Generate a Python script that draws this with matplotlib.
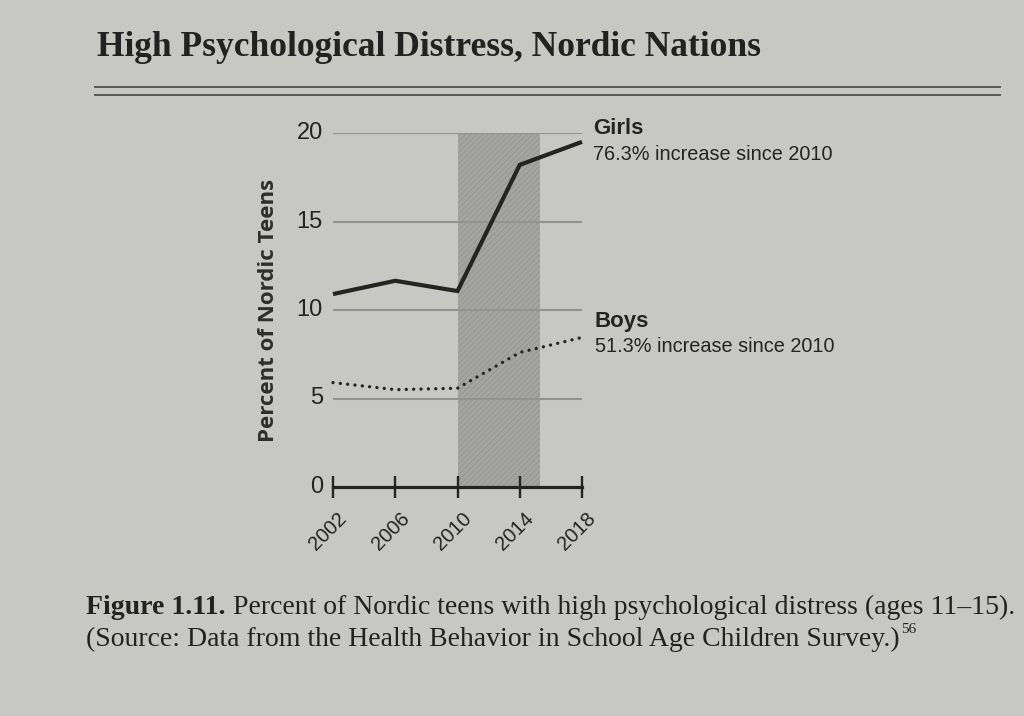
import matplotlib
matplotlib.use("Agg")
import matplotlib.pyplot as plt
import numpy as np

# ---- data ----
years = [2002, 2006, 2010, 2014, 2018]
girls = [10.9, 11.65, 11.07, 18.2, 19.5]
boys = [5.9, 5.5, 5.58, 7.6, 8.45]
yticks = [0, 5, 10, 15, 20]
shade_start, shade_end = 2010, 2015.3
title = "High Psychological Distress, Nordic Nations"
ylabel = "Percent of Nordic Teens"
girls_label, girls_note = "Girls", "76.3% increase since 2010"
boys_label, boys_note = "Boys", "51.3% increase since 2010"
cap_bold = "Figure 1.11."
cap_line1 = " Percent of Nordic teens with high psychological distress (ages 11\u201315)."
cap_line2 = "(Source: Data from the Health Behavior in School Age Children Survey.)"
cap_sup = "56"

W, H = 1024, 716
paper = "#c7c7c3"
ink = "#242424"

plt.rcParams["hatch.linewidth"] = 0.4
fig = plt.figure(figsize=(W / 100, H / 100), dpi=100, facecolor=paper)

def fx(px):
    return px / W

def fy(py):
    return 1 - py / H

# axes: x 2002 at px 333, 2018 at 582; y 0 at 487, 20 at 133
ax = fig.add_axes([fx(333), fy(487), fx(582) - fx(333), fy(133) - fy(487)])
ax.set_facecolor("none")
ax.set_xlim(2002, 2018)
ax.set_ylim(0, 20)
for s in ax.spines.values():
    s.set_visible(False)

# shaded band
ax.axvspan(shade_start, shade_end, ymin=0, ymax=1, facecolor="#a4a4a2",
           edgecolor="#8c8c8a", hatch="//////", linewidth=0, zorder=1)

# gridlines
for yv in yticks[1:]:
    ax.plot([years[0], years[-1]], [yv, yv], color="#929290", lw=1.5,
            zorder=2, solid_capstyle="butt")

# baseline axis with cross ticks
ax.plot([years[0], years[-1]], [0, 0], color=ink, lw=2.3, zorder=4, clip_on=False)
ax.set_xticks(years)
ax.set_xticklabels([])
ax.tick_params(axis="x", direction="inout", length=16, width=1.7, color=ink)
ax.set_yticks([])

# lines
ax.plot(years, girls, color=ink, lw=3.0, solid_joinstyle="miter",
        solid_capstyle="butt", zorder=5, clip_on=False)
ax.plot(years, boys, color=ink, lw=2.4, linestyle=(0, (0.01, 2.2)),
        dash_capstyle="round", zorder=5, clip_on=False)

# y tick labels
for yv in yticks:
    ax.annotate(str(yv), xy=(years[0], yv), xytext=(-10, 0),
                textcoords="offset pixels", ha="right", va="center",
                fontsize=17, family="Liberation Sans", color=ink)

# x tick labels (rotated)
for yr in years:
    ax.annotate(str(yr), xy=(yr, 0), xytext=(11, -29),
                textcoords="offset pixels", ha="right", va="center",
                rotation=45, rotation_mode="anchor",
                fontsize=14.5, family="Liberation Sans", color=ink)

# series annotations
fig.text(fx(593), fy(134), girls_label, fontsize=16, fontweight="bold",
         family="Liberation Sans", color=ink, va="baseline")
fig.text(fx(593), fy(160), girls_note, fontsize=14.3, family="Liberation Sans",
         color=ink, va="baseline")
fig.text(fx(595), fy(327), boys_label, fontsize=16, fontweight="bold",
         family="Liberation Sans", color=ink, va="baseline")
fig.text(fx(595), fy(352), boys_note, fontsize=14.3, family="Liberation Sans",
         color=ink, va="baseline")

# y label
fig.text(fx(268), fy(310), ylabel, rotation=90, ha="center", va="center",
         fontsize=16, fontweight="bold", family="Open Sans", color="#2e2e2e")

# title
fig.text(fx(97), fy(56), title, fontsize=25.5, fontweight="bold",
         family="Liberation Serif", color="#222222", va="baseline")

# double rule
for ry in (87, 95):
    fig.add_artist(plt.Line2D([fx(95), fx(1000)], [fy(ry), fy(ry)],
                              color="#555555", lw=1.4))

# caption
t1 = fig.text(fx(86), fy(614), cap_bold, fontsize=20, fontweight="bold",
              family="Liberation Serif", color="#222222", va="baseline")
fig.canvas.draw()
bb = t1.get_window_extent()
fig.text(bb.x1 / W, fy(614), cap_line1, fontsize=20, family="Liberation Serif",
         color="#222222", va="baseline")
t2 = fig.text(fx(86), fy(646), cap_line2, fontsize=20, family="Liberation Serif",
              color="#222222", va="baseline")
fig.canvas.draw()
bb2 = t2.get_window_extent()
fig.text(bb2.x1 / W + 0.001, fy(633), cap_sup, fontsize=11,
         family="Liberation Serif", color="#222222", va="baseline")

fig.savefig("out.png", dpi=100, facecolor=paper)
